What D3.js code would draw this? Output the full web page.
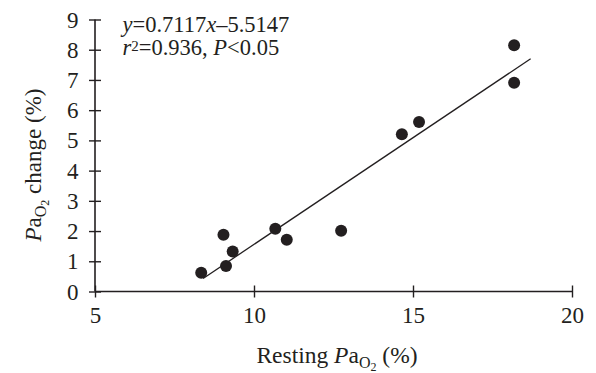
<!DOCTYPE html>
<html>
<head>
<meta charset="utf-8">
<script src="https://cdn.jsdelivr.net/npm/d3@7"></script>
<style>
  html, body { margin: 0; padding: 0; background: #fff; }
  svg { display: block; font-family: "Liberation Serif", "Times New Roman", serif; }
</style>
</head>
<body>
<svg id="chart" width="596" height="373"></svg>
<script>
// ---- data ----
const restingPaO2 = [8.34, 9.04, 9.12, 9.33, 10.67, 11.03, 12.74, 14.65, 15.19, 18.18, 18.18];
const changePaO2  = [0.62, 1.88, 0.84, 1.32, 2.08, 1.71, 2.01, 5.20, 5.61, 8.15, 6.91];
const fitX = [8.4, 18.7];
const fitY = [0.43, 7.7];
const xTicks = [5, 10, 15, 20];
const yTicks = [0, 1, 2, 3, 4, 5, 6, 7, 8, 9];

const ink = "#231f20";
const serif = "Liberation Serif";
const svg = d3.select("#chart");
const x = d3.scaleLinear().domain([5, 20]).range([95, 572]);
const y = d3.scaleLinear().domain([0, 9]).range([291.5, 19.5]);

// axes
const gx = svg.append("g").attr("transform", `translate(0,${y(0)})`)
  .call(d3.axisBottom(x).tickValues(xTicks).tickSize(0).tickPadding(0).tickFormat(d3.format("d")));
gx.attr("font-family", serif).attr("font-size", 23);
gx.select(".domain").attr("stroke", ink).attr("stroke-width", 1.6).attr("d", `M${x(5)},0H${x(20)}`);
gx.selectAll(".tick line").attr("stroke", ink).attr("stroke-width", 1.4).attr("y1", -6).attr("y2", 6);
gx.selectAll(".tick text").attr("fill", ink).attr("y", 31.5).attr("dy", 0);

const gy = svg.append("g").attr("transform", `translate(${x(5)},0)`)
  .call(d3.axisLeft(y).tickValues(yTicks).tickSize(0).tickPadding(0).tickFormat(d3.format("d")));
gy.attr("font-family", serif).attr("font-size", 23);
gy.select(".domain").attr("stroke", ink).attr("stroke-width", 1.6).attr("d", `M0,${y(0)}V${y(9)}`);
gy.selectAll(".tick line").attr("stroke", ink).attr("stroke-width", 1.4).attr("x1", -6).attr("x2", 6);
gy.selectAll(".tick text").attr("fill", ink).attr("x", -16.5).attr("dy", "0.33em");

// regression line
svg.append("line")
  .attr("x1", x(fitX[0])).attr("y1", y(fitY[0]))
  .attr("x2", x(fitX[1])).attr("y2", y(fitY[1]))
  .attr("stroke", ink).attr("stroke-width", 1.3);

// points
svg.append("g").selectAll("circle")
  .data(restingPaO2.map((v, i) => [v, changePaO2[i]]))
  .join("circle")
  .attr("cx", d => x(d[0])).attr("cy", d => y(d[1])).attr("r", 6)
  .attr("fill", ink);

// annotation
const ann = svg.append("g").attr("font-size", 22.5).attr("fill", ink).attr("font-family", serif);
const l1 = ann.append("text").attr("x", 122.5).attr("y", 31.5);
l1.append("tspan").attr("font-style", "italic").text("y");
l1.append("tspan").text("=0.7117");
l1.append("tspan").attr("font-style", "italic").text("x");
l1.append("tspan").text("\u20135.5147");
const l2 = ann.append("text").attr("x", 122.5).attr("y", 55);
l2.append("tspan").attr("font-style", "italic").text("r");
l2.append("tspan").attr("font-size", 15).attr("dy", -4).text("2");
l2.append("tspan").attr("dy", 4).text("=0.936, ");
l2.append("tspan").attr("font-style", "italic").text("P");
l2.append("tspan").text("<0.05");

// x title
const xt = svg.append("text").attr("x", 337).attr("y", 363).attr("text-anchor", "middle")
  .attr("font-size", 23.5).attr("fill", ink).attr("font-family", serif);
xt.append("tspan").text("Resting ");
xt.append("tspan").attr("font-style", "italic").text("P");
xt.append("tspan").text("a");
xt.append("tspan").attr("font-size", 16).attr("dy", 5).text("O");
xt.append("tspan").attr("font-size", 12).attr("dy", 3).text("2");
xt.append("tspan").attr("dy", -8).text(" (%)");

// y title
const yt = svg.append("text").attr("transform", "translate(41,165) rotate(-90)")
  .attr("text-anchor", "middle").attr("font-size", 23).attr("fill", ink).attr("font-family", serif);
yt.append("tspan").attr("font-style", "italic").text("P");
yt.append("tspan").text("a");
yt.append("tspan").attr("font-size", 16).attr("dy", 5).text("O");
yt.append("tspan").attr("font-size", 12).attr("dy", 3).text("2");
yt.append("tspan").attr("dy", -8).text(" change (%)");
</script>
</body>
</html>
